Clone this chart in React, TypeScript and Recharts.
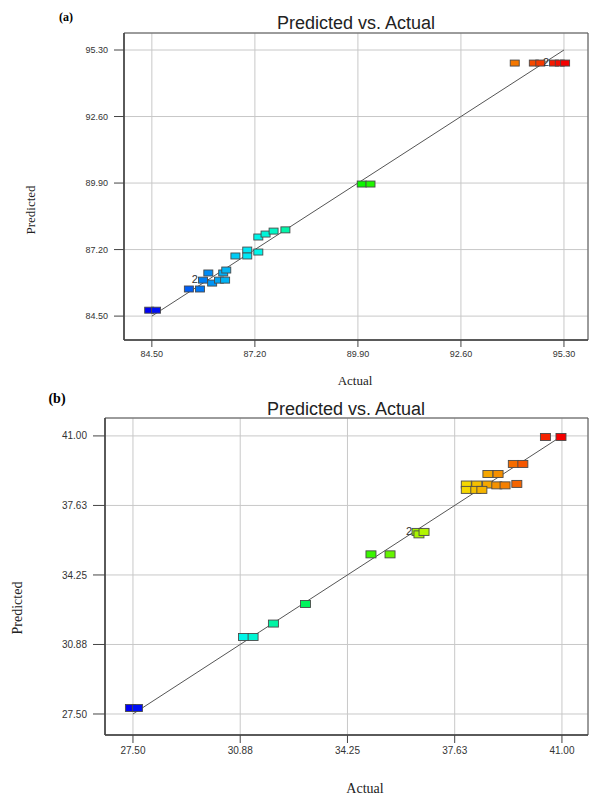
import React from "react";
import {
  ScatterChart,
  Scatter,
  XAxis,
  YAxis,
  CartesianGrid,
  ReferenceLine,
  ReferenceArea,
} from "recharts";

// (a) panel
const actualA = [
  84.43, 84.61, 85.47, 85.76, 85.84, 85.98, 86.08, 86.26, 86.42, 86.37, 86.45,
  86.69, 87.0, 87.0, 87.29, 87.29, 87.48, 87.69, 88.0, 90.0, 90.23, 94.01,
  94.51, 94.68, 95.04, 95.19, 95.33,
];
const predictedA = [
  84.74, 84.74, 85.6, 85.6, 85.96, 86.25, 85.84, 85.96, 85.96, 86.25, 86.37,
  86.94, 87.18, 86.94, 87.1, 87.71, 87.83, 87.95, 88.0, 89.86, 89.86, 94.77,
  94.77, 94.77, 94.77, 94.77, 94.77,
];
const countA = [
  1, 1, 1, 1, 2, 1, 1, 1, 1, 1, 1, 1, 1, 1, 1, 1, 1, 1, 1, 1, 1, 1, 1, 1, 2,
  1, 1,
];
const ticksA = [84.5, 87.2, 89.9, 92.6, 95.3];

// (b) panel
const actualB = [
  27.42, 27.64, 30.98, 31.28, 31.92, 32.93, 34.99, 35.59, 36.44, 36.5, 36.66,
  37.99, 38.32, 38.66, 37.99, 38.29, 38.48, 38.67, 38.99, 38.95, 39.21, 39.58,
  39.47, 39.77, 40.48, 40.97,
];
const predictedB = [
  27.79, 27.79, 31.24, 31.24, 31.89, 32.84, 35.25, 35.25, 36.34, 36.22, 36.34,
  38.64, 38.64, 38.64, 38.38, 38.38, 38.38, 39.15, 39.15, 38.6, 38.6, 38.67,
  39.64, 39.64, 40.95, 40.95,
];
const countB = [
  1, 1, 1, 1, 1, 1, 1, 1, 2, 1, 1, 1, 1, 1, 1, 1, 1, 1, 1, 1, 1, 1, 1, 1, 1, 1,
];
const ticksB = [27.5, 30.875, 34.25, 37.625, 41.0];

function build(actual: number[], predicted: number[], count: number[]) {
  const lo = Math.min(...actual);
  const hi = Math.max(...actual);
  return actual.map((x, i) => {
    const t = (x - lo) / (hi - lo);
    const hue = 240 * (1 - t);
    return { x, y: predicted[i], n: count[i], color: `hsl(${hue}, 100%, 48%)` };
  });
}

const dataA = build(actualA, predictedA, countA);
const dataB = build(actualB, predictedB, countB);

const makeBox = (w: number, h: number) => (props: any) => {
  const { cx, cy, payload } = props;
  return (
    <g>
      <rect
        x={cx - w / 2}
        y={cy - h / 2}
        width={w}
        height={h}
        fill={payload.color}
        stroke="#4a4a4a"
        strokeWidth={0.9}
      />
      {payload.n > 1 && (
        <text
          x={cx - 5}
          y={cy + 3}
          textAnchor="end"
          fontSize={11}
          fill="#333"
          fontFamily="Liberation Sans, Arial, sans-serif"
        >
          {payload.n}
        </text>
      )}
    </g>
  );
};

function Txt({ x, y, children, style }: any) {
  return (
    <div
      style={{
        position: "absolute",
        left: x,
        top: y,
        transform: "translate(-50%, -50%)",
        whiteSpace: "nowrap",
        lineHeight: 1,
        ...style,
      }}
    >
      {children}
    </div>
  );
}

interface PanelProps {
  data: any[];
  ticks: number[];
  xDomain: [number, number];
  yDomain: [number, number];
  height: number;
  top: number;
  yWidth: number;
  xHeight: number;
  fontSize: number;
  ySize: number;
  xSize: number;
  box: [number, number];
}

function Panel({
  data,
  ticks,
  xDomain,
  yDomain,
  height,
  top,
  yWidth,
  xHeight,
  fontSize,
  ySize,
  xSize,
  box,
}: PanelProps) {
  const lo = ticks[0];
  const hi = ticks[ticks.length - 1];
  const tick = {
    fontSize,
    fill: "#333",
    fontFamily: "Liberation Sans, Arial, sans-serif",
  };
  return (
    <ScatterChart
      width={589}
      height={height}
      margin={{ top, right: 1, bottom: 0, left: 0 }}
    >
      <CartesianGrid stroke="#c8c8c8" strokeWidth={1} />
      <XAxis
        type="number"
        dataKey="x"
        domain={xDomain}
        ticks={ticks}
        allowDataOverflow
        height={xHeight}
        tickSize={xSize}
        tickMargin={4}
        tick={tick}
        tickFormatter={(v: number) => v.toFixed(2)}
        axisLine={{ stroke: "#444", strokeWidth: 1.5 }}
        tickLine={{ stroke: "#444" }}
      />
      <YAxis
        type="number"
        dataKey="y"
        domain={yDomain}
        ticks={ticks}
        allowDataOverflow
        width={yWidth}
        tickSize={ySize}
        tickMargin={6}
        tick={tick}
        tickFormatter={(v: number) => v.toFixed(2)}
        axisLine={{ stroke: "#444", strokeWidth: 1.5 }}
        tickLine={{ stroke: "#444" }}
      />
      <ReferenceArea
        x1={xDomain[0]}
        x2={xDomain[1]}
        y1={yDomain[0]}
        y2={yDomain[1]}
        fill="none"
        stroke="#555"
        strokeWidth={1}
      />
      <ReferenceLine
        segment={[
          { x: lo, y: lo },
          { x: hi, y: hi },
        ]}
        stroke="#555"
        strokeWidth={1}
      />
      <Scatter
        data={data}
        shape={makeBox(box[0], box[1])}
        isAnimationActive={false}
      />
    </ScatterChart>
  );
}

const serif = "Liberation Serif, Times New Roman, serif";
const sans = "Liberation Sans, Arial, sans-serif";

export default function App() {
  return (
    <div
      style={{
        position: "absolute",
        left: 0,
        top: 0,
        width: 589,
        height: 797,
        background: "#fff",
        overflow: "hidden",
      }}
    >
      <div style={{ position: "absolute", left: 0, top: 0 }}>
        <Panel
          data={dataA}
          ticks={ticksA}
          xDomain={[83.77, 95.93]}
          yDomain={[83.53, 95.99]}
          height={395}
          top={33}
          yWidth={124}
          xHeight={55}
          fontSize={9}
          ySize={10}
          xSize={7}
          box={[9, 6]}
        />
      </div>
      <div style={{ position: "absolute", left: 0, top: 385 }}>
        <Panel
          data={dataB}
          ticks={ticksB}
          xDomain={[26.62, 41.82]}
          yDomain={[26.48, 41.87]}
          height={412}
          top={33}
          yWidth={105}
          xHeight={62}
          fontSize={10}
          ySize={12}
          xSize={8}
          box={[10, 7]}
        />
      </div>

      <Txt x={66} y={17} style={{ fontFamily: serif, fontWeight: "bold", fontSize: 12 }}>
        (a)
      </Txt>
      <Txt x={356} y={23} style={{ fontFamily: sans, fontSize: 18, color: "#222" }}>
        Predicted vs. Actual
      </Txt>
      <Txt x={355} y={380} style={{ fontFamily: serif, fontSize: 13, color: "#222" }}>
        Actual
      </Txt>
      <Txt
        x={30}
        y={210}
        style={{
          fontFamily: serif,
          fontSize: 13,
          color: "#222",
          transform: "translate(-50%, -50%) rotate(-90deg)",
        }}
      >
        Predicted
      </Txt>

      <Txt x={57} y={399} style={{ fontFamily: serif, fontWeight: "bold", fontSize: 14 }}>
        (b)
      </Txt>
      <Txt x={346} y={409} style={{ fontFamily: sans, fontSize: 18, color: "#222" }}>
        Predicted vs. Actual
      </Txt>
      <Txt x={365} y={789} style={{ fontFamily: serif, fontSize: 14, color: "#222" }}>
        Actual
      </Txt>
      <Txt
        x={18}
        y={608}
        style={{
          fontFamily: serif,
          fontSize: 14,
          color: "#222",
          transform: "translate(-50%, -50%) rotate(-90deg)",
        }}
      >
        Predicted
      </Txt>
    </div>
  );
}
